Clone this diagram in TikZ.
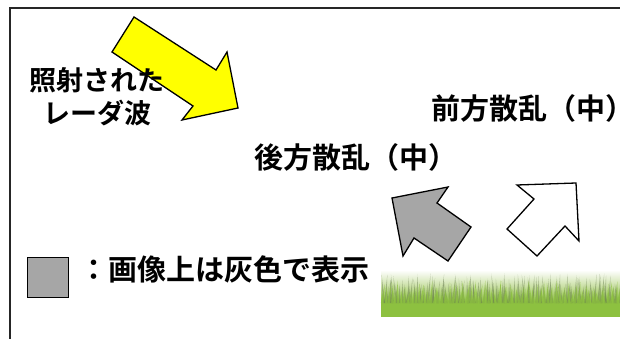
\documentclass[tikz,border=0pt]{standalone}
\usepackage{fontspec}
\newfontfamily\jp{Noto Sans CJK JP}[BoldFont={* Bold}]
\definecolor{arrowyellow}{RGB}{255,255,0}
\definecolor{legendgray}{RGB}{166,166,166}
\definecolor{grassgreen}{RGB}{141,193,64}
\definecolor{bladegray}{RGB}{105,125,80}
\definecolor{bladelight}{RGB}{170,205,110}
\tikzset{
  lbl/.style={inner sep=0pt, font=\jp\bfseries\fontsize{29}{32}\selectfont, text height=0.83em, text depth=0.07em, align=center},
  lblsmall/.style={lbl, font=\jp\bfseries\fontsize{27}{33}\selectfont},
  arrowshape/.style={draw=black, line width=1.3pt, line join=miter},
  frameline/.style={draw=black!85, line width=1.5pt}
}
\begin{document}
\begin{tikzpicture}[x=1pt,y=-1pt]
\useasboundingbox (0,0) rectangle (620,339);
% frame
\draw[frameline] (10,339) -- (10,8) -- (621,8);
% yellow incident arrow
\draw[arrowshape, fill=arrowyellow] (134,17) -- (216,70) -- (227,52) -- (238,108) -- (182,120) -- (193,106) -- (112,52) -- cycle;
% gray backscatter arrow
\draw[arrowshape, fill=legendgray] (392,198) -- (448,187) -- (437,203) -- (471,227) -- (448,261) -- (414,238) -- (403,256) -- cycle;
% white forward scatter arrow
\draw[arrowshape, fill=white] (576,183) -- (517,185) -- (534,199) -- (507,229) -- (537,256) -- (565,226) -- (579,241) -- cycle;
% grass
\shade[top color=white, bottom color=grassgreen, middle color=bladelight!60] (381,270) rectangle (620,301);
\fill[grassgreen] (381,300.5) rectangle (620,317);
\pgfmathsetseed{7}
\foreach \i in {0,...,110}{
  \pgfmathsetmacro{\bx}{382+\i*2.15+rnd*2}
  \pgfmathsetmacro{\bt}{273+rnd*14}
  \pgfmathsetmacro{\bl}{-3+rnd*6}
  \fill[bladegray, opacity=0.45] (\bx-1.1,303) -- (\bx+\bl,\bt) -- (\bx+1.1,303) -- cycle;
}
\pgfmathsetseed{3}
\foreach \i in {0,...,80}{
  \pgfmathsetmacro{\bx}{382+\i*2.95+rnd*2}
  \pgfmathsetmacro{\bt}{280+rnd*12}
  \pgfmathsetmacro{\bl}{-3+rnd*6}
  \fill[grassgreen, opacity=0.7] (\bx-1.3,303) -- (\bx+\bl,\bt) -- (\bx+1.3,303) -- cycle;
}
% legend
\node[draw=black, line width=1.3pt, fill=legendgray, minimum width=41pt, minimum height=40pt, inner sep=0pt] (legendbox) at (48,277.5) {};
% labels
\node[lblsmall] (incident) at (97,120) {照射された\\レーダ波};
\node[lbl, anchor=west] (forward) at (431,116) {前方散乱（中）};
\node[lbl] (backward) at (356,164.5) {後方散乱（中）};
\node[lbl, anchor=west] (legendtext) at (79,276.5) {：画像上は灰色で表示};
\end{tikzpicture}
\end{document}
